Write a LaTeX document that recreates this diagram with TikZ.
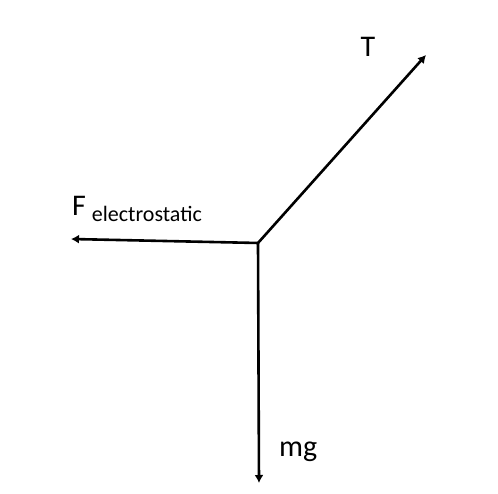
\documentclass[tikz,border=0pt]{standalone}
\usepackage{fontspec}
\setmainfont{Carlito}
\usetikzlibrary{arrows.meta}
\tikzset{
  force/.style={line width=2.6pt,-{Latex[length=8pt,width=9pt]}},
  lbl/.style={inner sep=0pt,font=\fontsize{30}{36}\selectfont},
}
\begin{document}
\begin{tikzpicture}[x=1pt,y=1pt]
\useasboundingbox (0,0) rectangle (498,494);
\coordinate (O) at (258,251);
\coordinate (Tend) at (426,439);
\coordinate (Fend) at (71,255);
\coordinate (Wend) at (259,11);
\draw[force] (O) -- (Tend);
\draw[force] (O) -- (Fend);
\draw[force] (O) -- (Wend);
\node[lbl,anchor=base] (T) at (368,437) {T};
\node[lbl,anchor=base west] (F) at (72,278) {F\hspace{6pt}{\fontsize{22}{26}\selectfont\raisebox{-6pt}{electrostatic}}};
\node[lbl,anchor=base west] (mg) at (279,37) {mg};
\end{tikzpicture}
\end{document}
